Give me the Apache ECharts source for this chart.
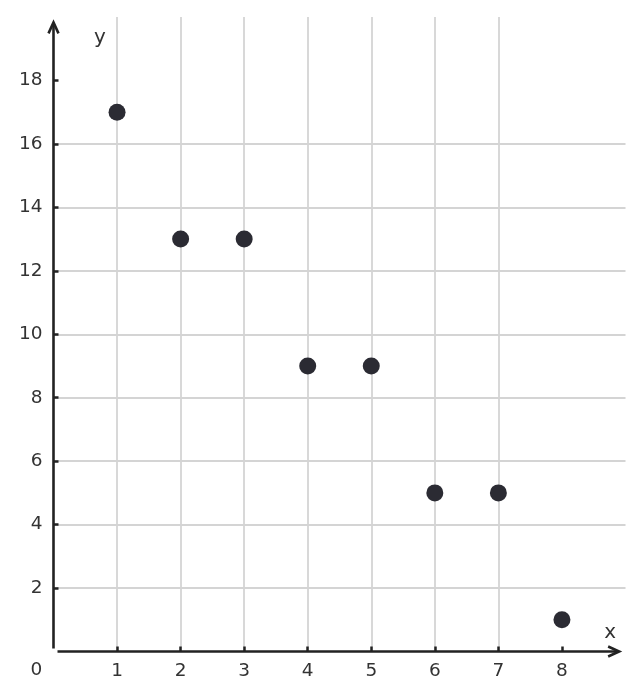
<!DOCTYPE html>
<html>
<head>
<meta charset="utf-8">
<script src="https://cdn.jsdelivr.net/npm/echarts@6/dist/echarts.min.js"></script>
<style>html,body{margin:0;padding:0;background:#fff;}#c{width:643px;height:700px;}</style>
</head>
<body>
<div id="c"></div>
<script>
var xValues = [1, 2, 3, 4, 5, 6, 7, 8];
var yValues = [17, 13, 13, 9, 9, 5, 5, 1];
var xTicks = [1, 2, 3, 4, 5, 6, 7, 8];
var yTicks = [2, 4, 6, 8, 10, 12, 14, 16, 18];

var FONT = 'DejaVu Sans';
var TXT = '#333333';
var AX = '#222222';
var chart = echarts.init(document.getElementById('c'), null, {renderer: 'canvas'});
var pts = xValues.map(function (x, i) { return [x, yValues[i]]; });

chart.setOption({
  animation: false,
  backgroundColor: '#ffffff',
  grid: {left: 53.5, right: 17.5, top: 17, bottom: 48.5, containLabel: false},
  xAxis: {
    type: 'value', min: 0, max: 9, interval: 1,
    axisLine: {show: false},
    axisTick: {show: true, inside: true, length: 5, customValues: xTicks, lineStyle: {color: AX, width: 2.5}},
    axisLabel: {customValues: xTicks, margin: 10, fontFamily: FONT, fontSize: 18.5, color: TXT},
    splitLine: {show: true, showMinLine: true, showMaxLine: false, lineStyle: {color: '#d4d4d4', width: 1.8}}
  },
  yAxis: {
    type: 'value', min: 0, max: 20, interval: 2,
    axisLine: {show: false},
    axisTick: {show: true, inside: true, length: 5, customValues: yTicks, lineStyle: {color: AX, width: 2.5}},
    axisLabel: {customValues: yTicks, margin: 11, fontFamily: FONT, fontSize: 18.5, color: TXT},
    splitLine: {show: true, showMinLine: true, showMaxLine: false, lineStyle: {color: '#d4d4d4', width: 1.8}}
  },
  series: [{
    type: 'scatter', data: pts, symbolSize: 17,
    itemStyle: {color: '#2b2b33', opacity: 1}, z: 5
  }]
});

function px(p) { return chart.convertToPixel({gridIndex: 0}, p); }
var o = px([0, 0]);
var yTop = px([0, 19.83]);
var xEnd = px([8.9, 0]);
var st = {stroke: AX, lineWidth: 2.6, fill: null, lineCap: 'butt', lineJoin: 'miter'};
chart.setOption({
  graphic: [
    {type: 'line', z: 10, shape: {x1: o[0], y1: o[1] - 3, x2: yTop[0], y2: yTop[1] + 1}, style: st},
    {type: 'polyline', z: 10, shape: {points: [[yTop[0] - 5, yTop[1] + 11], [yTop[0], yTop[1]], [yTop[0] + 5, yTop[1] + 11]]}, style: st},
    {type: 'line', z: 10, shape: {x1: o[0] + 4, y1: o[1], x2: xEnd[0] - 1, y2: xEnd[1]}, style: st},
    {type: 'polyline', z: 10, shape: {points: [[xEnd[0] - 11, xEnd[1] - 5], [xEnd[0], xEnd[1]], [xEnd[0] - 11, xEnd[1] + 5]]}, style: st},
    {type: 'text', z: 10, x: o[0] - 17, y: o[1] + 19, style: {text: '0', fontFamily: FONT, fontSize: 18.5, fill: TXT, align: 'center', verticalAlign: 'middle'}},
    {type: 'text', z: 10, x: px([0.73, 0])[0], y: px([0, 19.35])[1], style: {text: 'y', fontFamily: FONT, fontSize: 20, fill: TXT, align: 'center', verticalAlign: 'middle'}},
    {type: 'text', z: 10, x: px([8.76, 0])[0], y: px([0, 0.6])[1], style: {text: 'x', fontFamily: FONT, fontSize: 20, fill: TXT, align: 'center', verticalAlign: 'middle'}}
  ]
});
</script>
</body>
</html>
